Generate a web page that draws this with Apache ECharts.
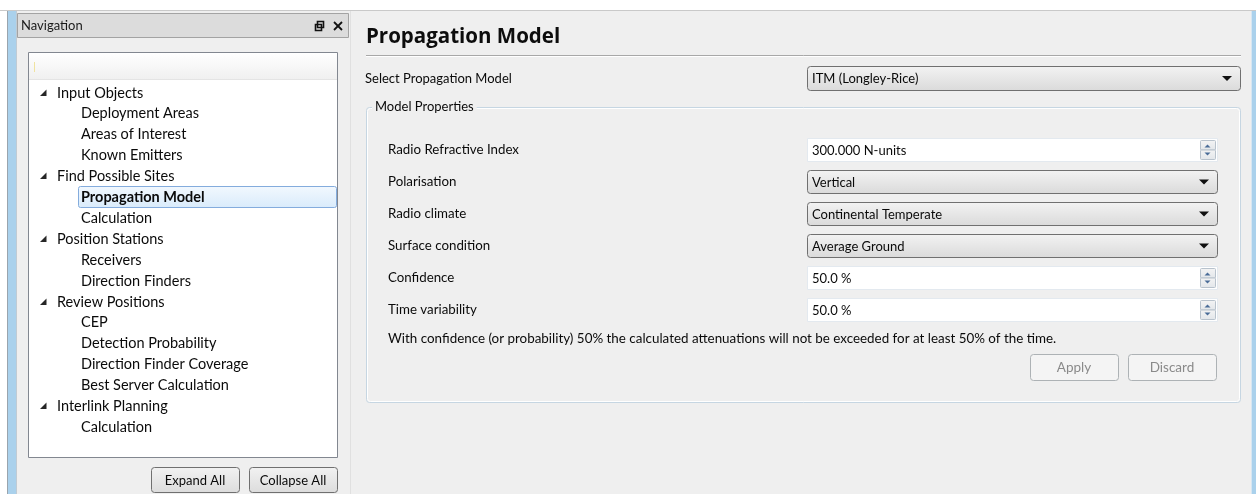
<!DOCTYPE html>
<html>
<head>
<meta charset="utf-8">
<script src="https://cdn.jsdelivr.net/npm/echarts@6/dist/echarts.min.js"></script>
<style>
html,body{margin:0;padding:0;background:#fff;}
#chart{width:1256px;height:494px;}
</style>
</head>
<body>
<div id="chart"></div>
<script>
// ---- content data ----
const panelTitle = "Navigation";
const treeItems = [
  ["Input Objects", 0], ["Deployment Areas", 1], ["Areas of Interest", 1], ["Known Emitters", 1],
  ["Find Possible Sites", 0], ["Propagation Model", 1], ["Calculation", 1],
  ["Position Stations", 0], ["Receivers", 1], ["Direction Finders", 1],
  ["Review Positions", 0], ["CEP", 1], ["Detection Probability", 1], ["Direction Finder Coverage", 1], ["Best Server Calculation", 1],
  ["Interlink Planning", 0], ["Calculation", 1]
];
const selectedIndex = 5;
const treeButtons = ["Expand All", "Collapse All"];
const pageTitle = "Propagation Model";
const selectLabel = "Select Propagation Model";
const selectValue = "ITM (Longley-Rice)";
const groupTitle = "Model Properties";
const propLabels = ["Radio Refractive Index", "Polarisation", "Radio climate", "Surface condition", "Confidence", "Time variability"];
const propValues = ["300.000 N-units", "Vertical", "Continental Temperate", "Average Ground", "50.0 %", "50.0 %"];
const propKinds = ["spin", "combo", "combo", "combo", "spin", "spin"];
const noteText = "With confidence (or probability) 50% the calculated attenuations will not be exceeded for at least 50% of the time.";
const actionButtons = ["Apply", "Discard"];

// ---- drawing ----
const FONT = "Lato, 'Open Sans', sans-serif";
const els = [];
function rect(x, y, w, h, style, r) {
  els.push({type: 'rect', shape: {x: x, y: y, width: w, height: h, r: r || 0}, style: style, silent: true});
}
function line(x1, y1, x2, y2, color, w) {
  els.push({type: 'line', shape: {x1: x1, y1: y1, x2: x2, y2: y2}, style: {stroke: color, lineWidth: w || 1}, silent: true});
}
function text(x, y, s, size, opts) {
  opts = opts || {};
  els.push({type: 'text', x: x, y: y, style: {text: s, fontSize: size, fontFamily: opts.family || FONT,
    fontWeight: opts.weight || 'normal', fill: opts.color || '#1e1e1e', textVerticalAlign: 'middle',
    textAlign: opts.align || 'left', backgroundColor: opts.bg, padding: opts.pad}, silent: true});
}
function poly(points, color) {
  els.push({type: 'polygon', shape: {points: points}, style: {fill: color}, silent: true});
}
function grad(c1, c2) {
  return new echarts.graphic.LinearGradient(0, 0, 0, 1, [{offset: 0, color: c1}, {offset: 1, color: c2}]);
}
function combo(x, y, w, h, label, size) {
  rect(x + 0.5, y + 0.5, w, h, {fill: grad('#f3f3f3', '#dadada'), stroke: '#707070', lineWidth: 1}, 3);
  text(x + 5, y + h / 2 + 1, label, size, {color: '#0a0a0a'});
  const ax = x + w - 13, ay = y + h / 2 - 2;
  poly([[ax - 5, ay], [ax + 5, ay], [ax, ay + 5]], '#111');
}
function spin(x, y, w, h, label, size) {
  rect(x + 0.5, y + 0.5, w, h, {fill: '#fff', stroke: '#e3e9ef', lineWidth: 1}, 0);
  text(x + 5, y + h / 2 + 1, label, size, {color: '#0a0a0a'});
  const bx = x + w - 17, bw = 15;
  rect(bx + 0.5, y + 2.5, bw, h / 2 - 2, {fill: grad('#f4f4f4', '#e2e6ea'), stroke: '#b8c2cc'}, 1);
  rect(bx + 0.5, y + h / 2 + 0.5, bw, h / 2 - 2, {fill: grad('#f4f4f4', '#e2e6ea'), stroke: '#b8c2cc'}, 1);
  const cx = bx + bw / 2;
  poly([[cx - 3, y + h / 2 - 2], [cx + 3, y + h / 2 - 2], [cx, y + h / 2 - 5]], '#4a6c98');
  poly([[cx - 3, y + h / 2 + 3], [cx + 3, y + h / 2 + 3], [cx, y + h / 2 + 6]], '#4a6c98');
}
function button(x, y, w, h, label, size, disabled) {
  if (disabled) {
    rect(x + 0.5, y + 0.5, w, h, {fill: '#f4f4f4', stroke: '#adb2b5', lineWidth: 1}, 3);
    text(x + w / 2, y + h / 2 + 1, label, size, {color: '#8a8a8a', align: 'center'});
  } else {
    rect(x + 0.5, y + 0.5, w, h, {fill: grad('#f2f2f2', '#dcdcdc'), stroke: '#707070', lineWidth: 1}, 3);
    text(x + w / 2, y + h / 2 + 1, label, size, {color: '#0a0a0a', align: 'center'});
  }
}

// window background
rect(0, 0, 1256, 494, {fill: '#ffffff'});
rect(7, 10, 1249, 484, {fill: '#efefef'});
line(0, 10.5, 1256, 10.5, '#c9c9c9');
// left blue strip
rect(7, 11, 10, 483, {fill: '#aad1ec'});
line(7.5, 11, 7.5, 494, '#9aa4ad');
line(16.5, 11, 16.5, 494, '#c0cbd4');
// right blue strip
rect(1251, 11, 5, 483, {fill: '#aad1ec'});
line(1251.5, 11, 1251.5, 494, '#d6e6f2');

// navigation panel
rect(17, 11, 333, 483, {fill: '#efefef'});
line(350.5, 11, 350.5, 494, '#e0e0e0');
rect(17.5, 13.5, 331, 24, {fill: '#dcdcdc', stroke: '#a3a3a3', lineWidth: 1});
text(21, 26, panelTitle, 13, {color: '#1a1a1a'});
// restore icon
rect(315.5, 24.5, 6, 6, {fill: 'none', stroke: '#111', lineWidth: 1.6});
rect(317.5, 21.5, 6, 6, {fill: 'none', stroke: '#111', lineWidth: 1.6});
// close icon
line(334, 22, 342, 30, '#111', 1.8);
line(342, 22, 334, 30, '#111', 1.8);

// tree box
rect(28.5, 52.5, 309, 405, {fill: '#ffffff', stroke: '#828790', lineWidth: 1});
rect(29, 53, 308, 26, {fill: grad('#ffffff', '#f0f0f0')});
line(29, 79.5, 337, 79.5, '#e4e4e4');
line(34.5, 62, 34.5, 72, '#f0e3a0', 1);

const rowY0 = 92.5, rowStep = 20.9;
treeItems.forEach(function (it, i) {
  const y = Math.round(rowY0 + i * rowStep);
  if (i === selectedIndex) {
    rect(78.5, y - 10.5, 258, 21, {fill: grad('#f2f8fe', '#d9ebfb'), stroke: '#84acdd', lineWidth: 1}, 2);
  }
  if (it[1] === 0) {
    poly([[46.5, y - 3.5], [46.5, y + 3], [40, y + 3]], '#262626');
    text(57, y, it[0], 14.5, {color: '#0a0a0a'});
  } else {
    text(81, y, it[0], 14.5, {color: '#0a0a0a', weight: i === selectedIndex ? 'bold' : 'normal'});
  }
});
button(151, 467, 88, 25, treeButtons[0], 13, false);
button(249, 467, 88, 25, treeButtons[1], 13, false);

// main page
text(366, 37, pageTitle, 20.5, {weight: 'bold', color: '#0d0d0d', family: "'Open Sans', Lato, sans-serif"});
line(366, 55.5, 1241, 55.5, '#a8a8a8');
line(366, 56.5, 1241, 56.5, '#ffffff');

text(365, 79, selectLabel, 13, {color: '#0a0a0a'});
combo(807, 66, 433, 24, selectValue, 13);

// group box
rect(366.5, 107.5, 874, 295, {fill: 'none', stroke: '#c6d6e2', lineWidth: 1}, 3);
rect(367.5, 108.5, 872, 293, {fill: 'none', stroke: '#ffffff', lineWidth: 1}, 3);
text(372, 107, groupTitle, 13, {color: '#0a0a0a', bg: '#efefef', pad: [0, 3]});

const propY0 = 150, propStep = 32;
propLabels.forEach(function (lab, i) {
  const y = propY0 + i * propStep;
  text(388, y, lab, 13.3, {color: '#0a0a0a'});
  if (propKinds[i] === 'combo') combo(807, y - 12, 410, 23, propValues[i], 13);
  else spin(807, y - 12, 410, 23, propValues[i], 13);
});
text(388, 339, noteText, 13.4, {color: '#0a0a0a'});
button(1030, 354, 88, 26, actionButtons[0], 13.5, true);
button(1128, 354, 88, 26, actionButtons[1], 13.5, true);

const chart = echarts.init(document.getElementById('chart'), null, {renderer: 'canvas'});
chart.setOption({animation: false, graphic: {elements: els}});
</script>
</body>
</html>
